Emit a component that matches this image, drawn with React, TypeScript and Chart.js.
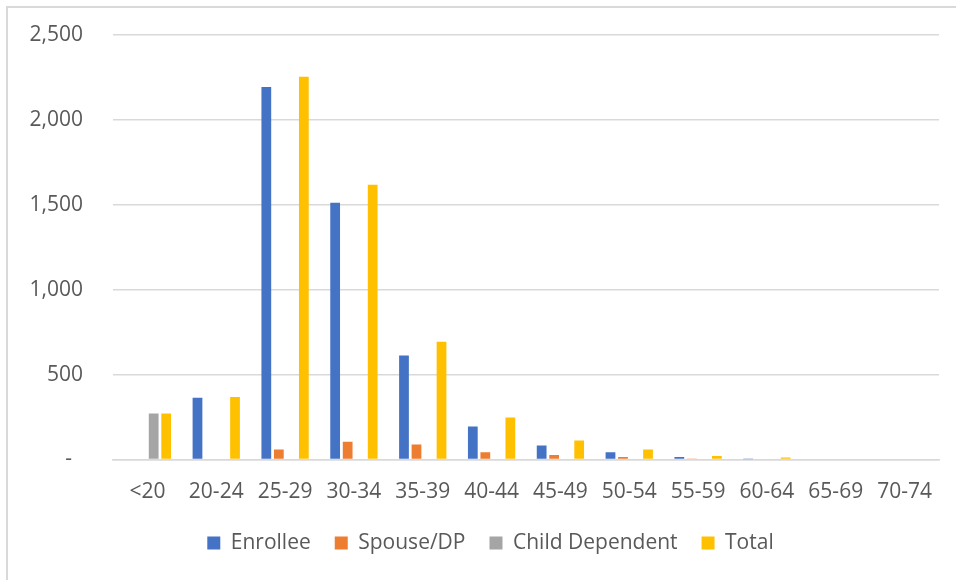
import React, { useEffect, useRef } from "react";
import { Chart, registerables } from "chart.js";

Chart.register(...registerables);

const categories = ["<20", "20-24", "25-29", "30-34", "35-39", "40-44", "45-49", "50-54", "55-59", "60-64", "65-69", "70-74"];
const enrollee = [0, 363, 2194, 1512, 612, 194, 82, 43, 14, 2, 0, 0];
const spouse = [0, 0, 59, 104, 88, 43, 27, 14, 3, 0, 0, 0];
const child = [271, 0, 0, 0, 0, 0, 0, 0, 0, 0, 0, 0];
const total = [271, 368, 2254, 1618, 694, 247, 112, 59, 20, 12, 0, 0];
const yTicks = [0, 500, 1000, 1500, 2000, 2500];

const FONT = "'Open Sans', sans-serif";
const TEXT = "#595959";
const GRID = "#d9d9d9";
const FS = 21;

const shiftLegend = {
  id: "shiftLegend",
  afterLayout(chart: any) {
    if (chart.legend) chart.legend.left = 42;
  },
};

export default function App() {
  const ref = useRef<HTMLCanvasElement>(null);
  useEffect(() => {
    if (!ref.current) return;
    const chart = new Chart(ref.current, {
      type: "bar",
      data: {
        labels: categories,
        datasets: [
          { label: "Enrollee", data: enrollee, backgroundColor: "#4472C4" },
          { label: "Spouse/DP", data: spouse, backgroundColor: "#ED7D31" },
          { label: "Child Dependent", data: child, backgroundColor: "#A5A5A5" },
          { label: "Total", data: total, backgroundColor: "#FFC000" },
        ],
      },
      options: {
        animation: false,
        responsive: false,
        devicePixelRatio: 1,
        layout: { padding: { top: 35, right: 17, left: 0, bottom: 16.5 } },
        datasets: { bar: { categoryPercentage: 0.727, barPercentage: 0.78 } },
        plugins: {
          tooltip: { enabled: false },
          legend: {
            position: "bottom",
            labels: {
              font: { family: FONT, size: FS },
              color: TEXT,
              boxWidth: 13,
              boxHeight: 13,
              padding: 24,
            },
          },
        },
        scales: {
          x: {
            grid: { display: false, drawTicks: false },
            border: { display: true, color: GRID, width: 1.5 },
            ticks: { font: { family: FONT, size: FS }, color: TEXT, padding: 20, maxRotation: 0, autoSkip: false },
            afterFit: (s: any) => { s.height = 49; },
          },
          y: {
            min: 0,
            max: 2500,
            afterBuildTicks: (s: any) => { s.ticks = yTicks.map((v) => ({ value: v })); },
            grid: { color: GRID, lineWidth: 1.5, drawTicks: true, tickLength: 25, tickColor: "rgba(0,0,0,0)" },
            border: { display: false },
            ticks: {
              font: { family: FONT, size: FS },
              color: TEXT,
              padding: 5,
              callback: (v: any) => (Number(v) === 0 ? "-  " : Number(v).toLocaleString("en-US")),
            },
            afterFit: (s: any) => { s.width = 113; },
          },
        },
      },
      plugins: [shiftLegend],
    });
    return () => chart.destroy();
  }, []);
  return (
    <div style={{ position: "fixed", left: 0, top: 0, width: 956, height: 580, overflow: "hidden", background: "#fff" }}>
      <div style={{ position: "absolute", left: 6, top: 6, width: 970, height: 600, border: "2px solid #d9d9d9", boxSizing: "border-box" }} />
      <canvas ref={ref} width={956} height={580} style={{ position: "absolute", left: 0, top: 0, width: 956, height: 580 }} />
    </div>
  );
}
